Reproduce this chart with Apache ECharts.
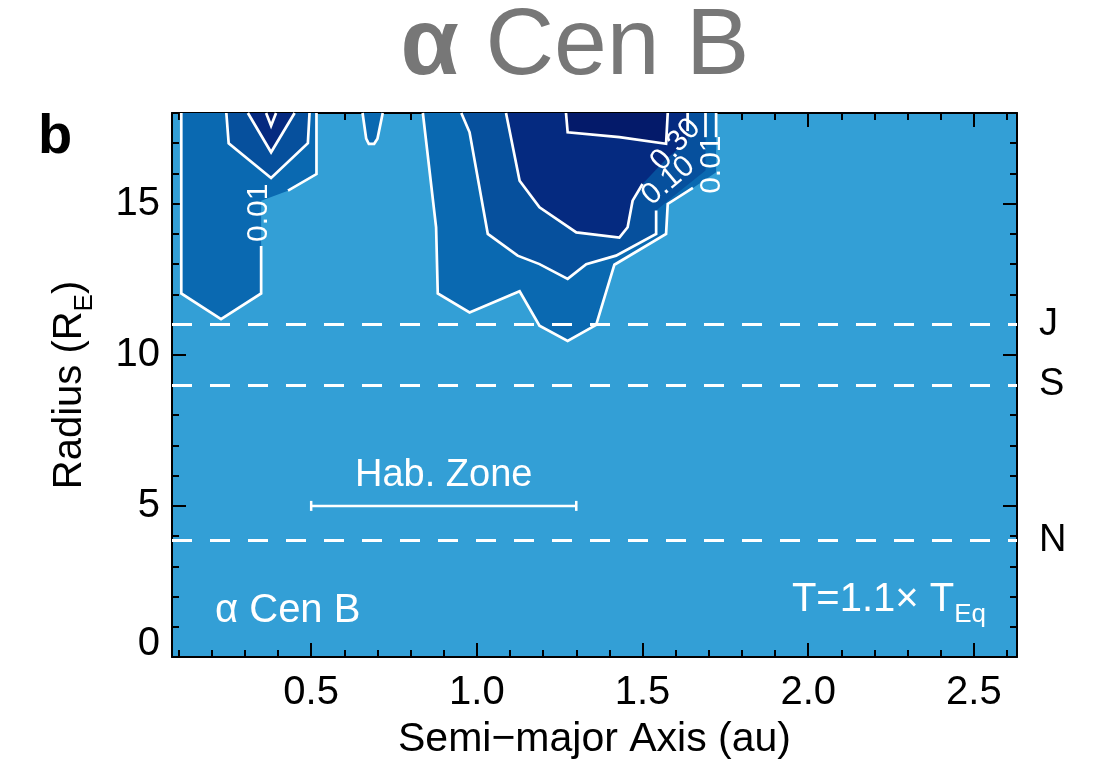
<!DOCTYPE html>
<html>
<head>
<meta charset="utf-8">
<script src="https://cdn.jsdelivr.net/npm/echarts@6/dist/echarts.min.js"></script>
<style>
html,body{margin:0;padding:0;background:#fff;}
#chart{width:1094px;height:766px;}
</style>
</head>
<body>
<div id="chart"></div>
<script>
// ---------------- DATA ----------------
const X_MIN = 0.08, X_MAX = 2.63;
const Y_MIN = 0, Y_MAX = 18;
const xMajorTicks = [0.5, 1.0, 1.5, 2.0, 2.5];
const xMinorTicks = [0.1,0.2,0.3,0.4,0.6,0.7,0.8,0.9,1.1,1.2,1.3,1.4,1.6,1.7,1.8,1.9,2.1,2.2,2.3,2.4,2.6];
const yMajorTicks = [0, 5, 10, 15];
const yMinorTicks = [1,2,3,4,6,7,8,9,11,12,13,14,16,17,18];

// contour level boundaries (semi-major axis au, radius R_E); third entry = 1 means the
// line leading into that vertex is hidden under a contour label
const contourLevels = [0.01, 0.10, 0.30, 0.50];
const level1Left = [[0.108,18],[0.108,12.03],[0.228,11.18],[0.349,12.03],[0.349,13.6],[0.349,15.1,1],[0.43,15.43,1],[0.516,15.98],[0.516,18]];
const level1Spike = [[0.655,18],[0.666,17.15],[0.674,16.98],[0.690,16.98],[0.700,17.15],[0.716,18]];
const level1Mid = [[0.837,18],[0.877,14.22],[0.882,12.03],[0.978,11.40],[1.129,12.10],[1.189,10.96],[1.274,10.46],[1.360,10.99],[1.415,12.98],[1.571,14.0],[1.576,14.99],[1.652,15.52],[1.722,16.04,1],[1.722,17.2,1],[1.722,18]];
const level2Left = [[0.244,18],[0.251,17.0],[0.379,15.85],[0.490,17.0],[0.495,18]];
const level2Mid = [[0.953,18],[0.978,17.36],[1.033,14.0],[1.123,13.28],[1.189,13.0],[1.274,12.51],[1.330,13.0],[1.420,13.28],[1.541,14.0],[1.541,14.77],[1.611,15.4,1],[1.69,16.1,1],[1.69,17.2,1],[1.69,18]];
const level3Left = [[0.309,18],[0.379,16.7],[0.450,18]];
const level3Mid = [[1.088,18],[1.129,15.76],[1.189,14.88],[1.300,14.05],[1.430,13.88],[1.455,14.22],[1.470,15.1],[1.500,15.65],[1.566,16.42,1],[1.636,17.09,1],[1.636,17.4,1],[1.636,18]];
const level4Left = [[0.364,18],[0.379,17.58],[0.394,18]];
const level4Mid = [[1.269,18],[1.274,17.36],[1.430,17.2],[1.571,16.98],[1.576,18]];

const contourLabelText = ['0.01', '0.30', '0.10', '0.01'];
const contourLabelPos = [[0.341,14.7],[1.60,16.95],[1.578,15.75],[1.709,16.29]];
const contourLabelAngle = [90, 48, 40, 90];

const planetNames = ['J', 'S', 'N'];
const planetRadii = [11.0, 9.0, 3.85];

const habZone = [0.5, 1.3];
const habZoneRadius = 5.0;

// ---------------- STYLE ----------------
const FONT = '"Liberation Sans", Arial, Helvetica, sans-serif';
const BG = '#339FD6';
const levelColors = ['#0A69B1', '#06509D', '#052A80', '#041A6A'];

const regions = [
  {level:0, pts:level1Left}, {level:0, pts:level1Spike}, {level:0, pts:level1Mid},
  {level:1, pts:level2Left}, {level:1, pts:level2Mid},
  {level:2, pts:level3Left}, {level:2, pts:level3Mid},
  {level:3, pts:level4Left}, {level:3, pts:level4Mid}
];

const chart = echarts.init(document.getElementById('chart'), null, {renderer:'canvas'});

const tickStyle = {color:'#000', width:2};
function xAxisDef(pos, major, withLabels) {
  const a = {
    type:'value', position:pos, min:X_MIN, max:X_MAX,
    axisLine:{show:major, onZero:false, lineStyle:{color:'#000', width:2}},
    axisTick:{show:true, inside:true, length: major?14:7, lineStyle:tickStyle, customValues: major?xMajorTicks:xMinorTicks},
    axisLabel:{show:false},
    splitLine:{show:false}
  };
  if (withLabels) {
    a.axisLabel = {show:true, customValues:xMajorTicks, formatter:v=>v.toFixed(1), fontSize:40, color:'#000', margin:16, fontFamily:FONT};
    a.name = 'Semi\u2212major Axis (au)';
    a.nameLocation = 'middle';
    a.nameGap = 62;
    a.nameTextStyle = {fontSize:41, color:'#000', fontFamily:FONT};
  }
  return a;
}
function yAxisDef(pos, major, withLabels) {
  const a = {
    type:'value', position:pos, min:Y_MIN, max:Y_MAX,
    axisLine:{show:major, onZero:false, lineStyle:{color:'#000', width:2}},
    axisTick:{show:true, inside:true, length: major?14:7, lineStyle:tickStyle, customValues: major?yMajorTicks:yMinorTicks},
    axisLabel:{show:false},
    splitLine:{show:false}
  };
  if (withLabels) {
    a.axisLabel = {show:true, customValues:yMajorTicks, fontSize:40, lineHeight:26, color:'#000', margin:12, fontFamily:FONT, verticalAlignMinLabel:'bottom'};
    a.name = 'Radius (R{s|E})';
    a.nameLocation = 'middle';
    a.nameGap = 74;
    a.nameTextStyle = {fontSize:40, lineHeight:56, color:'#000', fontFamily:FONT,
      rich:{s:{fontSize:26, lineHeight:26, verticalAlign:'bottom', color:'#000', fontFamily:FONT}}};
  }
  return a;
}

const strokeLine = seg => ({type:'polyline', shape:{points:seg}, style:{stroke:'#fff', lineWidth:2.7, fill:null}});

const option = {
  animation:false,
  backgroundColor:'#fff',
  grid:{left:172, right:77, top:113, bottom:109, show:true, backgroundColor:BG, borderWidth:0},
  xAxis:[xAxisDef('bottom',true,true), xAxisDef('bottom',false,false), xAxisDef('top',true,false), xAxisDef('top',false,false)],
  yAxis:[yAxisDef('left',true,true), yAxisDef('left',false,false), yAxisDef('right',true,false), yAxisDef('right',false,false)],
  graphic:[
    {type:'text', x:575, y:48, style:{text:'{a|\u03b1} Cen B', align:'center', verticalAlign:'middle', fontSize:95, fill:'#777', fontFamily:FONT,
      rich:{a:{fontSize:95, fontWeight:'bold', fill:'#777', color:'#777', fontFamily:FONT}}}},
    {type:'text', x:55, y:138, style:{text:'b', align:'center', verticalAlign:'middle', fontSize:56, fontWeight:'bold', fill:'#000', fontFamily:FONT}},
    {type:'text', x:215, y:611, z:100, style:{text:'\u03b1 Cen B', align:'left', verticalAlign:'middle', fontSize:40, fill:'#fff', fontFamily:FONT}},
    {type:'text', x:986, y:600, z:100, style:{text:'T=1.1\u00d7 T{s|Eq}', align:'right', verticalAlign:'middle', fontSize:40, lineHeight:56, fill:'#fff', fontFamily:FONT,
      rich:{s:{fontSize:26, lineHeight:26, verticalAlign:'bottom', fill:'#fff', color:'#fff', fontFamily:FONT}}}}
  ],
  series:[
    {
      type:'custom', xAxisIndex:0, yAxisIndex:0, z:2, silent:true,
      data: regions.map(r => [r.pts[0][0], r.pts[0][1]]),
      encode:{x:0, y:1},
      renderItem:function(params, api){
        const reg = regions[params.dataIndex];
        const pts = reg.pts.map(p => api.coord([p[0], p[1]]));
        const children = [{type:'polygon', shape:{points:pts}, style:{fill:levelColors[reg.level]}}];
        let seg = [pts[0]];
        for (let i = 1; i < pts.length; i++) {
          if (reg.pts[i][2]) { if (seg.length > 1) children.push(strokeLine(seg)); seg = [pts[i]]; }
          else seg.push(pts[i]);
        }
        if (seg.length > 1) children.push(strokeLine(seg));
        return {type:'group', children:children};
      }
    },
    {
      type:'custom', xAxisIndex:0, yAxisIndex:0, z:3, silent:true,
      data: contourLabelPos.map(p => [p[0], p[1]]),
      encode:{x:0, y:1},
      renderItem:function(params, api){
        const i = params.dataIndex;
        const c = api.coord([api.value(0), api.value(1)]);
        return {type:'text', x:c[0], y:c[1], rotation:contourLabelAngle[i]*Math.PI/180,
          style:{text:contourLabelText[i], fill:'#fff', fontSize:30, fontFamily:FONT, align:'center', verticalAlign:'middle'}};
      }
    },
    {
      type:'line', xAxisIndex:0, yAxisIndex:0, data:[], z:4, silent:true,
      markLine:{
        silent:true, symbol:['none','none'],
        lineStyle:{color:'#fff', width:3, type:[20,18]},
        label:{show:true, position:'end', formatter:'{b}', color:'#000', fontSize:38, fontFamily:FONT, distance:22},
        data: planetRadii.map((r,i) => ({yAxis:r, name:planetNames[i]}))
      }
    },
    {
      type:'custom', xAxisIndex:0, yAxisIndex:0, z:4, silent:true,
      data:[[habZone[0], habZoneRadius, habZone[1]]],
      encode:{x:0, y:1},
      renderItem:function(params, api){
        const p1 = api.coord([habZone[0], habZoneRadius]);
        const p2 = api.coord([habZone[1], habZoneRadius]);
        const st = {stroke:'#fff', lineWidth:2.5};
        return {type:'group', children:[
          {type:'line', shape:{x1:p1[0], y1:p1[1], x2:p2[0], y2:p2[1]}, style:st},
          {type:'line', shape:{x1:p1[0], y1:p1[1]-5, x2:p1[0], y2:p1[1]+5}, style:st},
          {type:'line', shape:{x1:p2[0], y1:p2[1]-5, x2:p2[0], y2:p2[1]+5}, style:st},
          {type:'text', x:(p1[0]+p2[0])/2, y:p1[1]-30, style:{text:'Hab. Zone', fill:'#fff', fontSize:38, fontFamily:FONT, align:'center', verticalAlign:'middle'}}
        ]};
      }
    }
  ]
};
chart.setOption(option);
</script>
</body>
</html>
